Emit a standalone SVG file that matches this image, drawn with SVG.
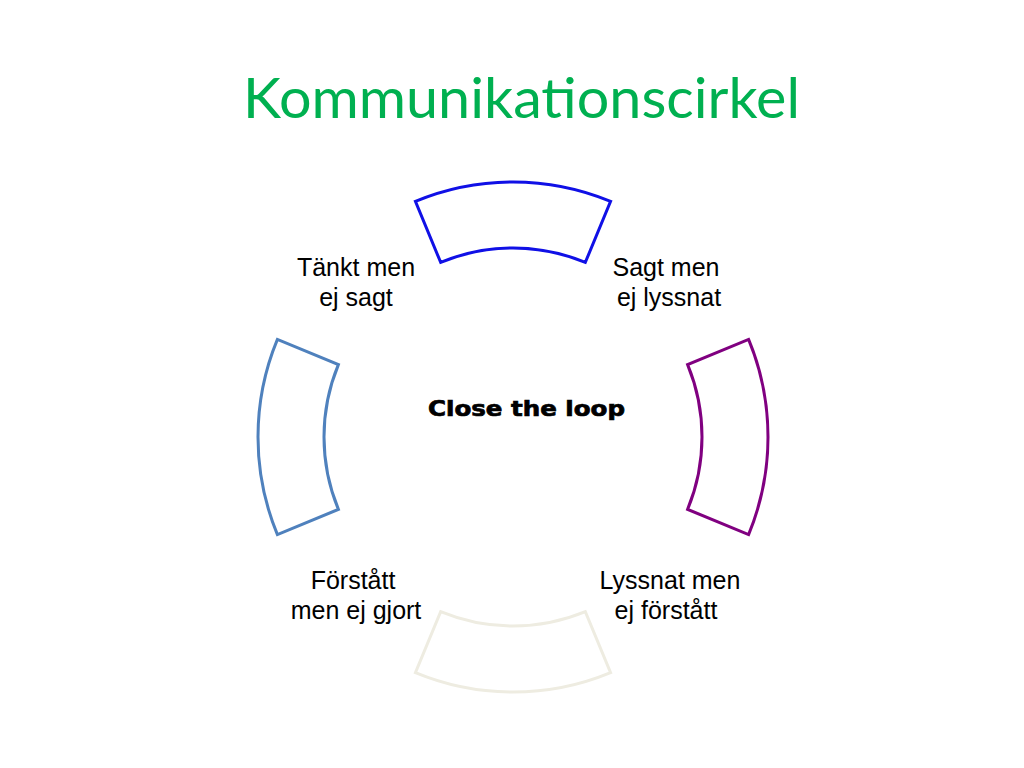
<svg xmlns="http://www.w3.org/2000/svg" width="1024" height="768" viewBox="0 0 1024 768">
<style>
.seg{fill:#ffffff;stroke-width:3;stroke-linejoin:miter}
.lbl{font-family:"Liberation Sans",Arial,sans-serif;font-size:25px;fill:#000000;text-anchor:middle}
.title{font-family:Lato,"Open Sans",sans-serif;font-size:56px;fill:#00B050}
.center{font-family:"DejaVu Sans","Liberation Sans",sans-serif;font-weight:700;font-size:21px;fill:#000000;stroke:#000000;stroke-width:0.7}
</style>
<rect width="1024" height="768" fill="#ffffff"/>
<text class="title" x="243" y="118" textLength="557" lengthAdjust="spacingAndGlyphs">Kommunikationscirkel</text>
<g id="connectors"></g>
<g id="seg-top"><path class="seg" stroke="#1010E6" d="M 415.42,201.41 A 255 255 0 0 1 610.58,201.41 L 585.33,262.39 A 189 189 0 0 0 440.67,262.39 Z"/></g>
<g id="seg-right"><path class="seg" stroke="#800080" d="M 748.59,339.42 A 255 255 0 0 1 748.59,534.58 L 687.61,509.33 A 189 189 0 0 0 687.61,364.67 Z"/></g>
<g id="seg-bottom"><path class="seg" stroke="#EEECE1" d="M 610.58,672.59 A 255 255 0 0 1 415.42,672.59 L 440.67,611.61 A 189 189 0 0 0 585.33,611.61 Z"/></g>
<g id="seg-left"><path class="seg" stroke="#4F81BD" d="M 277.41,534.58 A 255 255 0 0 1 277.41,339.42 L 338.39,364.67 A 189 189 0 0 0 338.39,509.33 Z"/></g>
<g id="label-tankt"><text class="lbl" x="356" y="276">Tänkt men</text><text class="lbl" x="356" y="306">ej sagt</text></g>
<g id="label-sagt"><text class="lbl" x="666" y="276">Sagt men</text><text class="lbl" x="669" y="306">ej lyssnat</text></g>
<g id="label-forstatt"><text class="lbl" x="353" y="589">Förstått</text><text class="lbl" x="356" y="619">men ej gjort</text></g>
<g id="label-lyssnat"><text class="lbl" x="670" y="589">Lyssnat men</text><text class="lbl" x="666" y="619">ej förstått</text></g>
<g id="center"><text class="center" x="428" y="416" textLength="197" lengthAdjust="spacingAndGlyphs">Close the loop</text></g>
</svg>
